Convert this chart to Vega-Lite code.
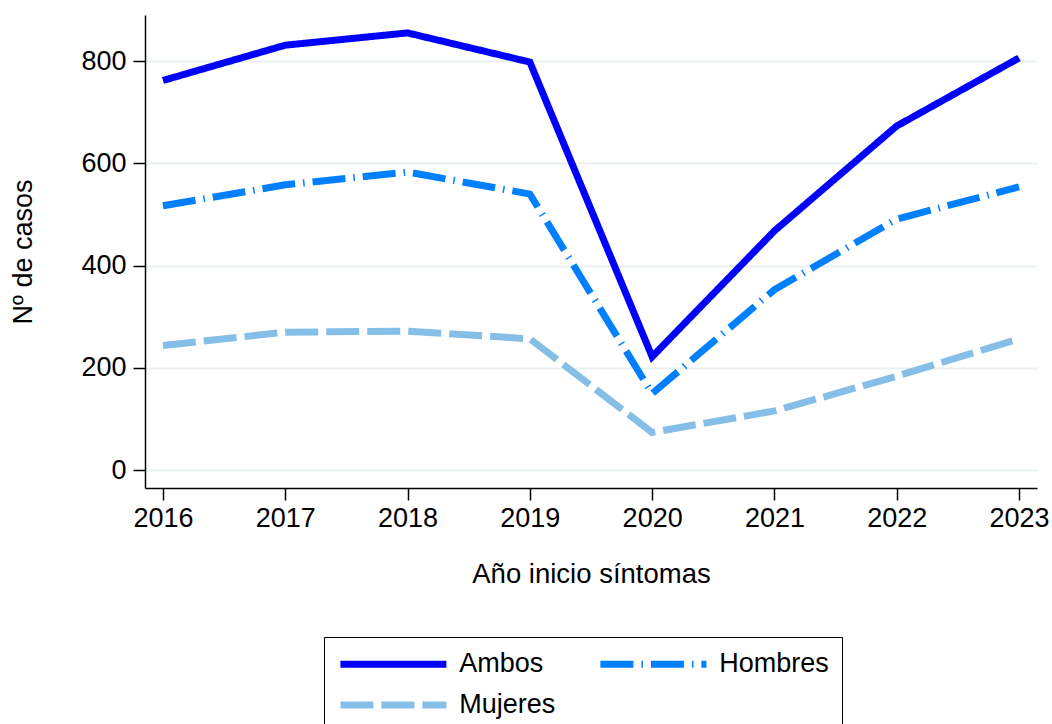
{
  "$schema": "https://vega.github.io/schema/vega-lite/v6.json",
  "width": 892,
  "height": 473,
  "autosize": {"type": "none"},
  "padding": {"left": 145, "top": 15, "right": 15, "bottom": 236},
  "background": "white",
  "config": {
    "view": {"stroke": null},
    "font": "Liberation Sans"
  },
  "data": {
    "values": [
      {"year": 2016, "serie": "Ambos", "casos": 762},
      {"year": 2017, "serie": "Ambos", "casos": 831},
      {"year": 2018, "serie": "Ambos", "casos": 855},
      {"year": 2019, "serie": "Ambos", "casos": 798},
      {"year": 2020, "serie": "Ambos", "casos": 222},
      {"year": 2021, "serie": "Ambos", "casos": 468},
      {"year": 2022, "serie": "Ambos", "casos": 673},
      {"year": 2023, "serie": "Ambos", "casos": 806},
      {"year": 2016, "serie": "Hombres", "casos": 517},
      {"year": 2017, "serie": "Hombres", "casos": 558},
      {"year": 2018, "serie": "Hombres", "casos": 583},
      {"year": 2019, "serie": "Hombres", "casos": 540},
      {"year": 2020, "serie": "Hombres", "casos": 150},
      {"year": 2021, "serie": "Hombres", "casos": 353},
      {"year": 2022, "serie": "Hombres", "casos": 491},
      {"year": 2023, "serie": "Hombres", "casos": 554},
      {"year": 2016, "serie": "Mujeres", "casos": 244},
      {"year": 2017, "serie": "Mujeres", "casos": 270},
      {"year": 2018, "serie": "Mujeres", "casos": 272},
      {"year": 2019, "serie": "Mujeres", "casos": 257},
      {"year": 2020, "serie": "Mujeres", "casos": 74},
      {"year": 2021, "serie": "Mujeres", "casos": 116},
      {"year": 2022, "serie": "Mujeres", "casos": 184},
      {"year": 2023, "serie": "Mujeres", "casos": 257}
    ]
  },
  "mark": {"type": "line", "strokeWidth": 7, "strokeCap": "butt", "clip": false},
  "encoding": {
    "x": {
      "field": "year",
      "type": "quantitative",
      "scale": {"domain": [2015.853, 2023.147], "nice": false, "zero": false},
      "axis": {
        "values": [2016, 2017, 2018, 2019, 2020, 2021, 2022, 2023],
        "format": "d",
        "title": "Año inicio síntomas",
        "grid": false,
        "labelFontSize": 27,
        "labelColor": "black",
        "labelFont": "Liberation Sans",
        "labelPadding": 5,
        "tickSize": 12,
        "tickColor": "black",
        "tickWidth": 1.5,
        "domainColor": "black",
        "domainWidth": 1.5,
        "titleFontSize": 27.5,
        "titleFontWeight": "normal",
        "titleColor": "black",
        "titleFont": "Liberation Sans",
        "titlePadding": 29,
        "labelFlush": false,
        "labelOverlap": false
      }
    },
    "y": {
      "field": "casos",
      "type": "quantitative",
      "scale": {"domain": [-34.6, 890], "nice": false, "zero": false},
      "axis": {
        "values": [0, 200, 400, 600, 800],
        "title": "Nº de casos",
        "grid": true,
        "gridColor": "#e9f1f3",
        "gridWidth": 2,
        "labelFontSize": 27,
        "labelColor": "black",
        "labelFont": "Liberation Sans",
        "labelPadding": 7,
        "tickSize": 12,
        "tickColor": "black",
        "tickWidth": 1.5,
        "domainColor": "black",
        "domainWidth": 1.5,
        "titleFontSize": 27,
        "titleFontWeight": "normal",
        "titleColor": "black",
        "titleFont": "Liberation Sans",
        "titlePadding": 43,
        "labelFlush": false
      }
    },
    "color": {
      "field": "serie",
      "type": "nominal",
      "scale": {"domain": ["Ambos", "Hombres", "Mujeres"], "range": ["#0000ff", "#0080ff", "#85bfe8"]},
      "legend": {
        "title": null,
        "orient": "none",
        "legendX": 179,
        "legendY": 622,
        "columns": 2,
        "direction": "horizontal",
        "strokeColor": "black",
        "fillColor": "white",
        "padding": 12.5,
        "symbolType": "M-1,0H9",
        "symbolSize": 449.4,
        "symbolStrokeWidth": 7,
        "labelFontSize": 27,
        "labelColor": "black",
        "labelFont": "Liberation Sans",
        "labelOffset": 93.8,
        "rowPadding": 12,
        "columnPadding": 30,
        "labelLimit": 300
      }
    },
    "strokeDash": {
      "field": "serie",
      "type": "nominal",
      "scale": {"domain": ["Ambos", "Hombres", "Mujeres"], "range": [[1, 0], [33, 8, 1.5, 8], [33, 8]]},
      "legend": {
        "title": null,
        "orient": "none",
        "legendX": 179,
        "legendY": 622,
        "columns": 2,
        "direction": "horizontal",
        "strokeColor": "black",
        "fillColor": "white",
        "padding": 12.5,
        "symbolType": "M-1,0H9",
        "symbolSize": 449.4,
        "symbolStrokeWidth": 7,
        "labelFontSize": 27,
        "labelColor": "black",
        "labelFont": "Liberation Sans",
        "labelOffset": 93.8,
        "rowPadding": 12,
        "columnPadding": 30,
        "labelLimit": 300
      }
    }
  }
}
